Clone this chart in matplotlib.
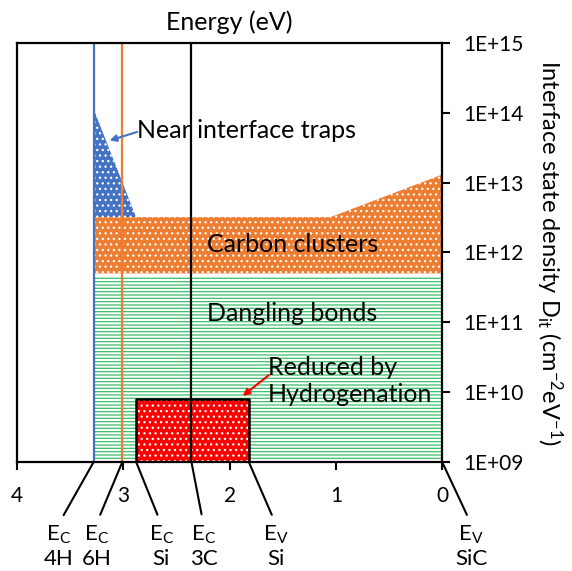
import matplotlib
matplotlib.use("Agg")
import matplotlib.pyplot as plt
from matplotlib.ticker import NullLocator

plt.rcParams['font.family'] = ['Lato', 'DejaVu Sans']
plt.rcParams['mathtext.fontset'] = 'custom'
plt.rcParams['mathtext.rm'] = 'Lato'
plt.rcParams['mathtext.it'] = 'Lato:italic'
plt.rcParams['hatch.linewidth'] = 0.9

# ── band edges, energy measured from the SiC valence band (eV) ──
edge_labels = [r'$\mathrm{E_C}$' + '\n4H', r'$\mathrm{E_C}$' + '\n6H',
               r'$\mathrm{E_C}$' + '\nSi', r'$\mathrm{E_C}$' + '\n3C',
               r'$\mathrm{E_V}$' + '\nSi', r'$\mathrm{E_V}$' + '\nSiC']
edge_energy = [3.28, 3.01, 2.88, 2.36, 1.82, 0.0]

# vertical conduction-band lines (4H, 6H, 3C)
cb_energy = [3.28, 3.01, 2.36]
cb_colors = ['#4472c4', '#ed7d31', 'black']

# ── defect regions ──
nit_x = [3.28, 3.28, 2.88]          # near interface traps (triangle)
nit_y = [1.1e14, 3.2e12, 3.2e12]

carbon_x = [3.28, 1.05, 0.0]        # carbon clusters
carbon_top = [3.2e12, 3.2e12, 1.3e13]
carbon_bottom = 5e11

dangling_x = [3.28, 0.0]            # dangling bonds
dangling_top = 4.6e11
dangling_bottom = 1e9

hydro_x = [2.88, 1.82]              # reduced by hydrogenation
hydro_top = 8e9
hydro_bottom = 1e9

x_ticks = [4, 3, 2, 1, 0]
x_ticklabels = ['4', '3', '2', '1', '0']
y_ticks = [1e9, 1e10, 1e11, 1e12, 1e13, 1e14, 1e15]
y_ticklabels = ['1E+09', '1E+10', '1E+11', '1E+12', '1E+13', '1E+14', '1E+15']

# label offsets (pixels) for the band-edge call-outs below the axis
edge_offsets = [(-35, -62), (-26, -62), (25, -62), (12, -62), (27, -62), (29, -62)]

fig = plt.figure(figsize=(5.72, 5.71), dpi=100)
ax = fig.add_axes([0.030, 0.191, 0.743, 0.734])

# dangling bonds: green horizontal lines
ax.fill_between(dangling_x, dangling_bottom, dangling_top, facecolor='none',
                edgecolor='#3cbf6a', linewidth=0, hatch='-----', zorder=1)
# carbon clusters
ax.fill_between(carbon_x, carbon_bottom, carbon_top, facecolor='#ed7d31',
                edgecolor='white', linewidth=0, hatch='...', zorder=2)
# near interface traps
ax.fill(nit_x, nit_y, facecolor='#4472c4', edgecolor='white', linewidth=0,
        hatch='...', zorder=2)
# reduced by hydrogenation
ax.fill_between(hydro_x, hydro_bottom, hydro_top, facecolor='#ff0000',
                edgecolor='white', linewidth=0, hatch='...', zorder=3)
ax.fill_between(hydro_x, hydro_bottom, hydro_top, facecolor='none',
                edgecolor='black', linewidth=1.8, zorder=4)

for e, c in zip(cb_energy, cb_colors):
    ax.axvline(e, color=c, lw=1.6, zorder=5)

ax.set_yscale('log')
ax.set_xlim(4, 0)
ax.set_ylim(1e9, 1e15)
ax.set_xticks(x_ticks)
ax.set_xticklabels(x_ticklabels)
ax.set_yticks(y_ticks)
ax.set_yticklabels(y_ticklabels)
ax.yaxis.set_minor_locator(NullLocator())
ax.yaxis.tick_right()
ax.yaxis.set_label_position('right')
ax.tick_params(axis='both', direction='out', length=6, width=1.5,
               labelsize=15, colors='black')
ax.tick_params(axis='x', pad=11)
ax.tick_params(axis='y', pad=9)
for sp in ax.spines.values():
    sp.set_linewidth(1.6)
    sp.set_zorder(6)

ax.set_title('Energy (eV)', fontsize=18, pad=9)
ax.set_ylabel(r'Interface state density D$_\mathrm{it}$ (cm$^{-2}$eV$^{-1}$)',
              rotation=270, va='bottom', fontsize=17, labelpad=8)

# region labels
ax.text(2.87, 5.5e13, 'Near interface traps', ha='left', va='center', fontsize=18, zorder=7)
ax.annotate('', xy=(3.13, 4e13), xytext=(2.87, 5.3e13),
            arrowprops=dict(arrowstyle='-|>', color='#4472c4', lw=1.5,
                            mutation_scale=10, shrinkA=0, shrinkB=0), zorder=7)
ax.text(2.21, 1.28e12, 'Carbon clusters', ha='left', va='center', fontsize=18, zorder=7)
ax.text(2.21, 1.35e11, 'Dangling bonds', ha='left', va='center', fontsize=18, zorder=7)
ax.text(1.64, 1.44e10, 'Reduced by\nHydrogenation', ha='left', va='center',
        fontsize=18, linespacing=1.25, zorder=7)
ax.annotate('', xy=(1.877, 8.8e9), xytext=(1.632, 1.75e10),
            arrowprops=dict(arrowstyle='-|>', color='#ff0000', lw=1.5,
                            mutation_scale=10, shrinkA=0, shrinkB=0), zorder=7)

# band-edge call-outs
for name, e, (dx, dy) in zip(edge_labels, edge_energy, edge_offsets):
    ax.annotate(name, xy=(e, y_ticks[0]), xytext=(dx, dy), textcoords='offset pixels',
                ha='center', va='top', fontsize=16, linespacing=1.2,
                annotation_clip=False,
                arrowprops=dict(arrowstyle='-', color='black', lw=1.5,
                                relpos=(0.5, 1.0), shrinkA=5, shrinkB=0))

fig.savefig('out.png', dpi=100)
